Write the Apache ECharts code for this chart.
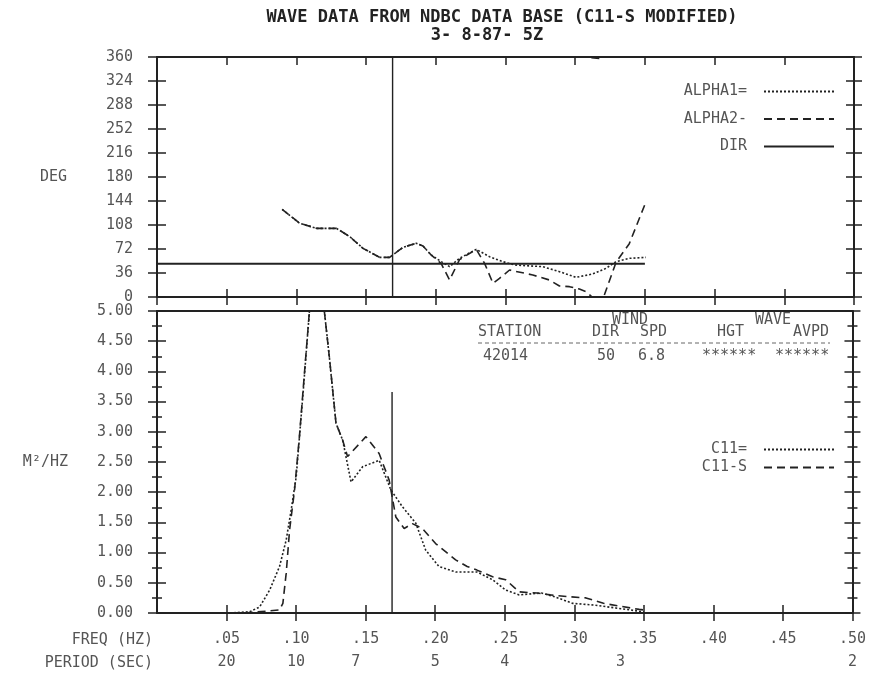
<!DOCTYPE html>
<html>
<head>
<meta charset="utf-8">
<script src="https://cdn.jsdelivr.net/npm/echarts@6/dist/echarts.min.js"></script>
<style>html,body{margin:0;padding:0;background:#fff}#c{width:869px;height:676px}</style>
</head>
<body>
<div id="c"></div>
<script>
// ---------- data ----------
const titleLines = ['WAVE DATA FROM NDBC DATA BASE (C11-S MODIFIED)', '3- 8-87- 5Z'];
const periodLabels = [20, 10, 7, 5, 4, 3, 2];          // seconds, placed at 1/T
const degTicks = { min: 0, max: 360, step: 36 };
const densTicks = { min: 0, max: 5, step: 0.5 };
const freqTicks = { min: 0, max: 0.5, step: 0.05 };

const alpha1 = [[0.0898,131.5],[0.1024,110.5],[0.1144,103],[0.1287,103],[0.1383,90.5],[0.1478,73],
  [0.1597,59.5],[0.1669,59.5],[0.1764,74.5],[0.186,80.5],[0.1908,76.5],[0.1967,63],[0.2039,53],
  [0.2099,45.5],[0.217,58],[0.229,71.5],[0.2385,60.5],[0.248,53],[0.257,48],[0.2767,45.5],
  [0.2887,38],[0.3006,29.5],[0.3125,34.5],[0.3221,43],[0.3293,53],[0.3388,58],[0.3508,59.5]];
const alpha2 = [[0.0898,131.5],[0.1024,110.5],[0.1144,103],[0.1287,103],[0.1383,90.5],[0.1478,73],
  [0.1597,59.5],[0.1669,59.5],[0.1764,74.5],[0.186,80.5],[0.1908,76.5],[0.1967,63],[0.2039,50],
  [0.2099,25.5],[0.217,56],[0.229,71.5],[0.235,50.5],[0.241,20.5],[0.2457,28],[0.2529,40.5],
  [0.2696,33],[0.2815,25.5],[0.2887,16.5],[0.2959,15.5],[0.303,12],[0.3078,8],[0.3116,1],
  [0.3116,'-'],[0.3116,359],[0.3209,357],[0.3209,'-'],[0.3209,3],[0.3293,52],[0.3388,80],[0.3508,143]];
const dirLine = [[0, 50], [0.35, 50]];
const peakFreq = 0.169;
const peakTopDeg = 360;
const peakTopDens = 3.66;

const c11 = [[0.0523,0],[0.0666,0.02],[0.0738,0.10],[0.081,0.38],[0.0881,0.77],[0.0929,1.21],
  [0.0965,1.71],[0.1001,2.26],[0.1048,3.58],[0.1096,5.0],[0.1203,5.0],[0.1239,4.24],[0.1287,3.14],
  [0.1335,2.86],[0.1395,2.17],[0.1478,2.42],[0.1597,2.53],[0.1681,2.04],[0.1764,1.76],[0.186,1.49],
  [0.1932,1.04],[0.2027,0.77],[0.2147,0.68],[0.223,0.68],[0.23,0.68],[0.2413,0.55],[0.2507,0.38],
  [0.2604,0.30],[0.2764,0.33],[0.2858,0.27],[0.2987,0.16],[0.3148,0.13],[0.3308,0.08],[0.3467,0.03],[0.35,0.02]];
const c11s = [[0.063,0],[0.0881,0.05],[0.0905,0.16],[0.0929,0.66],[0.0953,1.37],[0.0989,2.04],
  [0.1024,2.92],[0.106,3.97],[0.1096,5.0],[0.1203,5.0],[0.1239,4.24],[0.1287,3.14],[0.1335,2.86],
  [0.137,2.59],[0.1502,2.92],[0.1597,2.64],[0.1669,2.20],[0.1717,1.59],[0.1777,1.40],[0.1836,1.48],
  [0.1908,1.40],[0.2003,1.15],[0.2147,0.88],[0.223,0.77],[0.23,0.71],[0.2413,0.60],[0.2507,0.55],
  [0.2604,0.35],[0.2732,0.33],[0.2828,0.30],[0.2956,0.27],[0.3084,0.25],[0.321,0.16],[0.3338,0.11],
  [0.3467,0.06],[0.35,0.05]];

const stationHeader = ['STATION', 'DIR', 'SPD', 'HGT', 'AVPD'];
const groupHeader = ['WIND', 'WAVE'];
const stationRow = ['42014', '50', '6.8', '******', '******'];

// ---------- styling ----------
const FONT = 'DejaVu Sans Mono';
const INK = '#222';
const TXT = '#555';
const txt = { fontFamily: FONT, fontSize: 15, color: TXT };

function xAx(grid, o) {
  return Object.assign({
    type: 'value', gridIndex: grid, min: freqTicks.min, max: freqTicks.max, interval: freqTicks.step,
    splitLine: { show: false },
    axisLine: { show: false, onZero: false },
    axisTick: { show: false },
    axisLabel: { show: false }
  }, o);
}
function yAx(grid, r, o) {
  return Object.assign({
    type: 'value', gridIndex: grid, min: r.min, max: r.max, interval: r.step,
    splitLine: { show: false },
    axisLine: { show: false, onZero: false },
    axisTick: { show: false },
    axisLabel: { show: false }
  }, o);
}
const frame = { show: true, onZero: false, lineStyle: { color: INK, width: 2 } };
const tick = (inside, len) => ({ show: true, inside, length: len, lineStyle: { color: INK, width: 1.5 } });
const minor = (len) => ({ show: true, splitNumber: 2, length: len, lineStyle: { color: INK, width: 1.5 } });

const xAxis = [
  xAx(0, { position: 'bottom', axisLine: frame, axisTick: tick(false, 8) }),
  xAx(0, { position: 'bottom', axisTick: tick(true, 8) }),
  xAx(0, { position: 'top', axisLine: frame, axisTick: tick(true, 8) }),
  xAx(1, { position: 'bottom', axisLine: frame, axisTick: tick(false, 8),
    axisLabel: Object.assign({ show: true, margin: 19, showMinLabel: false,
      formatter: v => v === 0 ? '' : v.toFixed(2).replace(/^0/, '') }, txt) }),
  xAx(1, { position: 'bottom', axisTick: tick(true, 8) }),
  xAx(1, { position: 'bottom',
    axisLabel: Object.assign({ show: true, margin: 42, customValues: periodLabels.map(p => 1 / p),
      formatter: v => String(Math.round(1 / v)) }, txt) }),
  xAx(1, { position: 'top', axisLine: frame })
];
const yAxis = [
  yAx(0, degTicks, { position: 'left', axisLine: frame, axisTick: tick(false, 9),
    axisLabel: Object.assign({ show: true, margin: 24 }, txt),
    name: 'DEG', nameLocation: 'middle', nameRotate: 0, nameGap: 90, nameTextStyle: txt }),
  yAx(0, degTicks, { position: 'left', axisTick: tick(true, 9) }),
  yAx(0, degTicks, { position: 'right', axisLine: frame, axisTick: tick(false, 8) }),
  yAx(0, degTicks, { position: 'right', axisTick: tick(true, 8) }),
  yAx(1, densTicks, { position: 'left', axisLine: frame, axisTick: tick(false, 9), minorTick: minor(5),
    axisLabel: Object.assign({ show: true, margin: 24, formatter: v => v.toFixed(2) }, txt),
    name: 'M²/HZ', nameLocation: 'middle', nameRotate: 0, nameGap: 89, nameTextStyle: txt }),
  yAx(1, densTicks, { position: 'left', axisTick: tick(true, 9), minorTick: minor(5) }),
  yAx(1, densTicks, { position: 'right', axisLine: frame, axisTick: tick(false, 8), minorTick: minor(5) }),
  yAx(1, densTicks, { position: 'right', axisTick: tick(true, 8), minorTick: minor(5) })
];

function line(name, data, xi, yi, type, width) {
  return { name, type: 'line', data, xAxisIndex: xi, yAxisIndex: yi, symbol: 'none', silent: true,
    animation: false, lineStyle: { color: INK, width: width || 1.6, type: type || 'solid' }, itemStyle: { color: INK } };
}

const series = [
  line('ALPHA1=', alpha1, 0, 0, [2, 2], 1.6),
  line('ALPHA2-', alpha2, 0, 0, [8, 5], 1.6),
  line('DIR', dirLine, 0, 0, 'solid', 2),
  line('peak-top', [[peakFreq, 0], [peakFreq, peakTopDeg]], 0, 0, 'solid', 1.4),
  line('C11=', c11, 3, 4, [2, 2], 1.6),
  line('C11-S', c11s, 3, 4, [8, 5], 1.6),
  line('peak-bottom', [[peakFreq, 0], [peakFreq, peakTopDens]], 3, 4, 'solid', 1.4)
];

function gtext(text, x, y, align, extra) {
  return { type: 'text', x, y, silent: true,
    style: Object.assign({ text, fill: TXT, font: '15px "' + FONT + '"', align: align || 'left', verticalAlign: 'middle' }, extra || {}) };
}
const headerX = [478, 592, 640, 717, 793];
const groupX = [612, 755];
const rowX = [483, 597, 638, 702, 775];
const graphic = [
  gtext(titleLines[0], 502, 18, 'center', { fill: INK, font: 'bold 17px "' + FONT + '"' }),
  gtext(titleLines[1], 487, 36, 'center', { fill: INK, font: 'bold 17px "' + FONT + '"' }),
  gtext('FREQ (HZ)', 153, 640, 'right'),
  gtext('PERIOD (SEC)', 153, 663, 'right'),
  { type: 'line', silent: true, shape: { x1: 478, y1: 343, x2: 830, y2: 343 },
    style: { stroke: '#666', lineWidth: 1, lineDash: [4, 3] } }
];
stationHeader.forEach((t, i) => graphic.push(gtext(t, headerX[i], 332)));
groupHeader.forEach((t, i) => graphic.push(gtext(t, groupX[i], 320)));
stationRow.forEach((t, i) => graphic.push(gtext(t, rowX[i], 356)));

const legendCommon = {
  orient: 'vertical', align: 'right', right: 29, itemWidth: 70, itemHeight: 14,
  selectedMode: false, itemStyle: { opacity: 0 },
  textStyle: Object.assign({ padding: [0, 12, 0, 0] }, txt)
};

const option = {
  backgroundColor: '#fff',
  animation: false,
  grid: [
    { left: 157, right: 15, top: 57, height: 240 },
    { left: 157, right: 15, top: 311, height: 302 }
  ],
  xAxis, yAxis, series, graphic,
  legend: [
    Object.assign({ data: ['ALPHA1=', 'ALPHA2-', 'DIR'], top: 79, itemGap: 12.5 }, legendCommon),
    Object.assign({ data: ['C11=', 'C11-S'], top: 437, itemGap: 3 }, legendCommon)
  ]
};
const chart = echarts.init(document.getElementById('c'), null, { renderer: 'canvas' });
chart.setOption(option);
</script>
</body>
</html>
